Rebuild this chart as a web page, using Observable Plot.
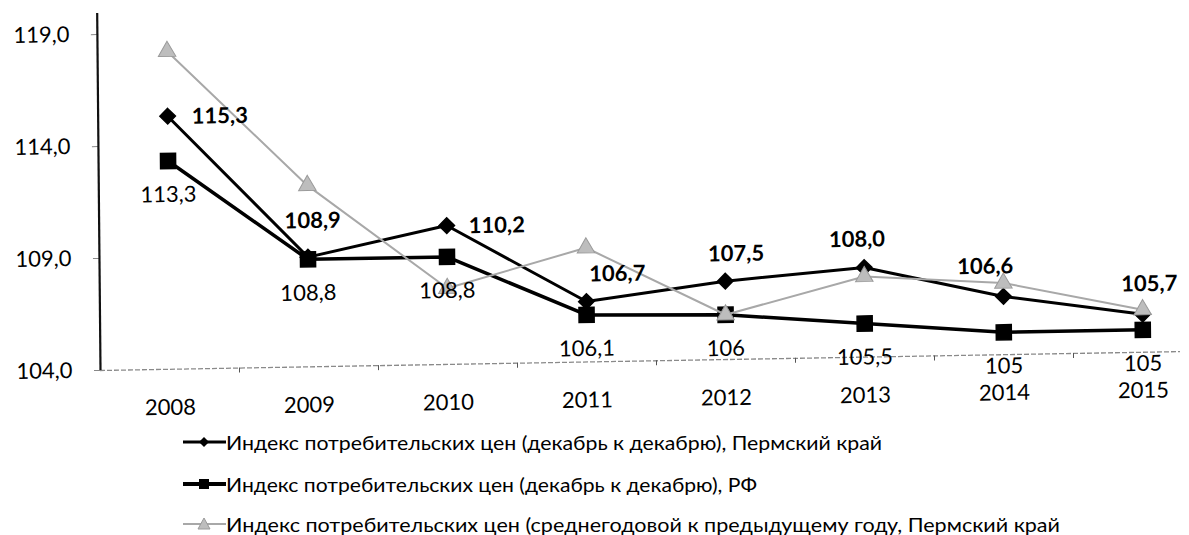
<!DOCTYPE html>
<html>
<head>
<meta charset="utf-8">
<script src="https://cdn.jsdelivr.net/npm/d3@7"></script>
<script src="https://cdn.jsdelivr.net/npm/@observablehq/plot@0.6"></script>
<style>
  html, body { margin: 0; padding: 0; background: #fff; overflow: hidden; }
  body { width: 1189px; height: 535px; position: relative; font-family: Lato, "Open Sans", sans-serif; color: #000; }
  #chart svg { display: block; transform: matrix(1, -0.0175, 0.0093, 1, 0, 0); transform-origin: 100px 370px; }
  .lg-row { position: absolute; left: 183px; height: 20px; display: flex; align-items: center; }
  .lg-row svg { flex: none; display: block; }
  .lg-text { display: inline-block; white-space: nowrap; font-size: 19px; line-height: 1; transform-origin: left center; }
</style>
</head>
<body>
<div id="chart"></div>
<div id="legend"></div>
<script>
// ---- data ----
const years = [2008, 2009, 2010, 2011, 2012, 2013, 2014, 2015];
const permDec = [115.3, 108.9, 110.2, 106.7, 107.5, 108.0, 106.6, 105.7];
const rfDec = [113.3, 108.8, 108.8, 106.1, 106, 105.5, 105, 105];
const permAvg = [118.2, 112.1, 107.4, 109.1, 106.0, 107.6, 107.2, 105.9];
const yTicks = [104, 109, 114, 119];
const seriesNames = [
  "Индекс потребительских цен (декабрь к декабрю), Пермский край",
  "Индекс потребительских цен (декабрь к декабрю), РФ",
  "Индекс потребительских цен (среднегодовой к предыдущему году, Пермский край"
];

// ---- build ----
const rows = years.map((year, i) => ({year, perm: permDec[i], rf: rfDec[i], avg: permAvg[i]}));
const fmt1 = v => v.toFixed(1).replace(".", ",");
const fmtG = v => String(v).replace(".", ",");
const yMax = 119.94;
const bounds = years.slice(0, -1).map(y => y + 0.5);

// label placement for the bold series (anchor, dx, dy)
const permPlace = {
  2008: ["start", 24, 1], 2009: ["middle", 5, -36], 2010: ["start", 22, 1], 2011: ["start", 3, -27],
  2012: ["middle", 11, -27], 2013: ["middle", -7, -28], 2014: ["middle", -18, -30], 2015: ["middle", 7, -30]
};
const permLabelMarks = rows.map(r => {
  const [anchor, dx, dy] = permPlace[r.year];
  return Plot.text([r], {x: "year", y: "perm", text: d => fmt1(d.perm), textAnchor: anchor, dx, dy,
    fontWeight: "bold", fontSize: 22, fill: "#000"});
});

const chart = Plot.plot({
  width: 1189, height: 420,
  marginTop: 13, marginLeft: 100, marginRight: 9, marginBottom: 50,
  x: {type: "linear", domain: [2007.5, 2015.5], range: [100, 1212], label: null},
  y: {domain: [104, yMax], label: null},
  style: {fontFamily: "Lato, 'Open Sans', sans-serif", fontSize: "22px", color: "#000", background: "transparent", overflow: "visible"},
  marks: [
    Plot.ruleY([104], {stroke: "#8a8a8a", strokeWidth: 1.3, strokeDasharray: "5,2"}),
    Plot.axisX({ticks: bounds, tickSize: 5, tickFormat: () => "", stroke: "#555", label: null}),
    Plot.axisX({ticks: years, tickSize: 0, tickPadding: 30, tickFormat: d => String(d), fontSize: 22, label: null}),
    Plot.axisY({ticks: yTicks, tickSize: 6, tickPadding: 22, tickFormat: fmt1, stroke: "#888", fontSize: 22, label: null}),
    Plot.ruleX([2007.5], {y1: 104, y2: yMax, stroke: "#111", strokeWidth: 2.2}),
    // Perm, Dec/Dec
    Plot.line(rows, {x: "year", y: "perm", stroke: "#000", strokeWidth: 3, strokeLinejoin: "round"}),
    Plot.dot(rows, {x: "year", y: "perm", symbol: "diamond2", r: 7, fill: "#000", stroke: "#000"}),
    // RF, Dec/Dec
    Plot.line(rows, {x: "year", y: "rf", stroke: "#000", strokeWidth: 3.5, strokeLinejoin: "round"}),
    Plot.dot(rows, {x: "year", y: "rf", symbol: "square", r: 8.5, fill: "#000", stroke: "#000"}),
    // Perm, annual average
    Plot.line(rows, {x: "year", y: "avg", stroke: "#a8a8a8", strokeWidth: 2, strokeLinejoin: "round"}),
    Plot.dot(rows, {x: "year", y: "avg", symbol: "triangle", r: 6.5, fill: "#bdbdbd", stroke: "#9a9a9a", strokeWidth: 1}),
    // labels
    ...permLabelMarks,
    Plot.text(rows, {x: "year", y: "rf", text: d => fmtG(d.rf), dy: 34, fontSize: 22, fill: "#000"})
  ]
});
document.getElementById("chart").appendChild(chart);

// ---- legend ----
const legend = document.getElementById("legend");
const rowCenters = [442, 484, 524];
const targetWidths = [656, 531, 834];
const swatches = [
  `<line x1="0" y1="10" x2="43" y2="10" stroke="#000" stroke-width="3"/><path d="M21,5 L26,10 L21,15 L16,10 Z" fill="#000"/>`,
  `<line x1="0" y1="10" x2="43" y2="10" stroke="#000" stroke-width="4"/><rect x="16" y="5" width="10" height="10" fill="#000"/>`,
  `<line x1="0" y1="10" x2="43" y2="10" stroke="#a8a8a8" stroke-width="2"/><path d="M21,4 L27,15 L15,15 Z" fill="#bdbdbd" stroke="#9a9a9a"/>`
];
seriesNames.forEach((name, i) => {
  const row = document.createElement("div");
  row.className = "lg-row";
  row.style.top = (rowCenters[i] - 10) + "px";
  row.innerHTML = `<svg width="43" height="20">${swatches[i]}</svg><span class="lg-text"></span>`;
  row.querySelector(".lg-text").textContent = name;
  legend.appendChild(row);
  const span = row.querySelector(".lg-text");
  const w = span.getBoundingClientRect().width;
  if (w > 0) span.style.transform = `scaleX(${targetWidths[i] / w})`;
});
</script>
</body>
</html>
